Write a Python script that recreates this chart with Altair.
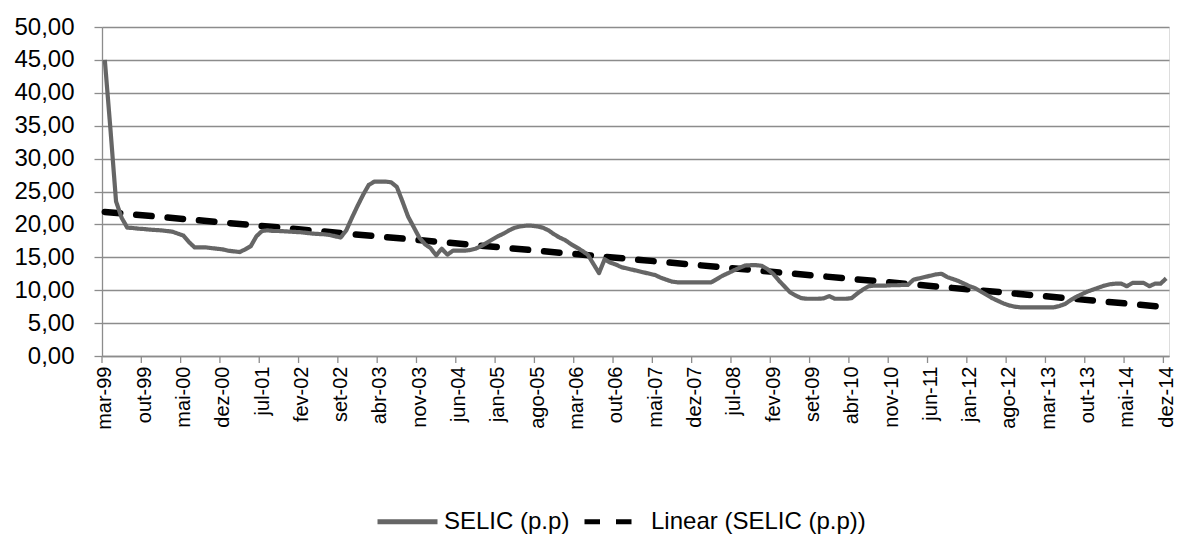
import altair as alt
import pandas as pd

# ---- data ----
meses_pt = ["jan", "fev", "mar", "abr", "mai", "jun", "jul", "ago", "set", "out", "nov", "dez"]
ano_inicio, mes_inicio, n_meses = 1999, 3, 190  # mar-99 .. dez-14

selic_1999 = [45.0, 34.5, 23.5, 21.0, 19.5, 19.45, 19.35, 19.3, 19.2, 19.15]
selic_2000 = [19.1, 19.0, 18.9, 18.6, 18.3, 17.3, 16.5, 16.5, 16.5, 16.4, 16.3, 16.2]
selic_2001 = [16.0, 15.9, 15.8, 16.2, 16.7, 18.2, 19.0, 19.1, 19.0, 19.0, 18.95, 18.9]
selic_2002 = [18.85, 18.8, 18.7, 18.6, 18.55, 18.5, 18.4, 18.2, 18.0, 19.1, 21.0, 22.8]
selic_2003 = [24.5, 26.0, 26.5, 26.5, 26.5, 26.4, 25.7, 23.5, 21.2, 19.6, 18.0, 17.0]
selic_2004 = [16.4, 15.3, 16.3, 15.4, 16.0, 16.0, 16.0, 16.1, 16.3, 16.7, 17.2, 17.7]
selic_2005 = [18.2, 18.6, 19.1, 19.5, 19.7, 19.8, 19.8, 19.7, 19.5, 19.1, 18.5, 18.0]
selic_2006 = [17.6, 17.0, 16.5, 16.0, 15.4, 14.0, 12.6, 14.7, 14.2, 13.9, 13.5, 13.3]
selic_2007 = [13.1, 12.9, 12.7, 12.5, 12.3, 11.9, 11.6, 11.3, 11.2, 11.2, 11.2, 11.2]
selic_2008 = [11.2, 11.2, 11.2, 11.7, 12.2, 12.6, 13.0, 13.4, 13.75, 13.8, 13.8, 13.7]
selic_2009 = [13.2, 12.5, 11.5, 10.6, 9.7, 9.2, 8.8, 8.7, 8.7, 8.7, 8.75, 9.1]
selic_2010 = [8.7, 8.7, 8.7, 8.8, 9.5, 10.1, 10.6, 10.7, 10.7, 10.7, 10.75, 10.75]
selic_2011 = [10.8, 10.8, 11.6, 11.8, 12.0, 12.2, 12.4, 12.5, 12.0, 11.7, 11.4, 11.0]
selic_2012 = [10.6, 10.3, 9.8, 9.3, 8.8, 8.4, 8.0, 7.7, 7.5, 7.4, 7.4, 7.4]
selic_2013 = [7.4, 7.4, 7.4, 7.4, 7.6, 7.9, 8.5, 9.0, 9.4, 9.8, 10.1, 10.4]
selic_2014 = [10.7, 10.9, 11.0, 11.0, 10.6, 11.1, 11.1, 11.1, 10.6, 11.0, 11.0, 11.8]

selic = (selic_1999 + selic_2000 + selic_2001 + selic_2002 + selic_2003 + selic_2004
         + selic_2005 + selic_2006 + selic_2007 + selic_2008 + selic_2009 + selic_2010
         + selic_2011 + selic_2012 + selic_2013 + selic_2014)

rotulos = []
for k in range(n_meses):
    m = (mes_inicio - 1 + k) % 12
    a = ano_inicio + (mes_inicio - 1 + k) // 12
    rotulos.append(f"{meses_pt[m]}-{a % 100:02d}")

passo_rotulo = 7
idx_rotulos = list(range(0, n_meses, passo_rotulo))
texto_rotulos = [rotulos[k] for k in idx_rotulos]
limites_ticks = [k - 0.5 for k in idx_rotulos]

y_ticks = list(range(0, 51, 5))

serie_1 = "SELIC (p.p)"
serie_2 = "Linear (SELIC (p.p))"

df = pd.DataFrame({"idx": list(range(n_meses)), "mes": rotulos, "selic": selic})
df_ticks = pd.DataFrame({"idx": limites_ticks})

FONT = "Liberation Sans"
GRID = "#8c8c8c"

label_expr_x = "[" + ",".join(f"'{t}'" for t in texto_rotulos) + f"][round(datum.value/{passo_rotulo})]"

x_scale = alt.Scale(domain=[-0.5, n_meses - 0.5], nice=False, zero=False)
y_scale = alt.Scale(domain=[0, 50], nice=False, zero=True)

x_axis = alt.Axis(values=idx_rotulos, labelExpr=label_expr_x, labelAngle=-90,
                  labelAlign="right", labelBaseline="middle",
                  ticks=False, grid=False, domainColor=GRID, domainWidth=1.3,
                  labelFont=FONT, labelFontSize=20, labelColor="#000000",
                  labelPadding=10, labelOverlap=False, labelFlush=False, labelBound=False)
x_enc = alt.X("idx:Q", scale=x_scale, title=None, axis=x_axis)
y_enc = alt.Y(
    "selic:Q", scale=y_scale, title=None,
    axis=alt.Axis(values=y_ticks, labelExpr="replace(format(datum.value, '.2f'), '.', ',')",
                  tickSize=8, tickColor=GRID, tickWidth=1.3, domainColor=GRID, domainWidth=1.3,
                  grid=True, gridColor=GRID, gridWidth=1.3, labelOverlap=False,
                  labelFont=FONT, labelFontSize=24, labelColor="#000000", labelPadding=20),
)

leg = alt.Legend(title=None, orient="none", legendX=273, legendY=462, direction="horizontal",
                 symbolType="stroke", symbolSize=3600, symbolStrokeWidth=5,
                 labelFont=FONT, labelFontSize=24, labelColor="#000000", labelOffset=4,
                 labelLimit=500, columnPadding=4)

cor = alt.Color("serie:N", scale=alt.Scale(domain=[serie_1, serie_2], range=["#666666", "#000000"]), legend=leg)
traco = alt.StrokeDash("serie:N", scale=alt.Scale(domain=[serie_1, serie_2], range=[[1, 0], [15.5, 16]]), legend=leg)

base = alt.Chart(df)

linha = base.transform_calculate(serie=f"'{serie_1}'").mark_line(
    strokeWidth=4.2, strokeJoin="round"
).encode(x=x_enc, y=y_enc, color=cor, strokeDash=traco)

tendencia = base.transform_regression("idx", "selic", method="linear").transform_calculate(
    serie=f"'{serie_2}'"
).mark_line(strokeWidth=6.5, strokeCap="round").encode(x=x_enc, y=y_enc, color=cor, strokeDash=traco)

ticks_x = alt.Chart(df_ticks).mark_rule(color=GRID, strokeWidth=1.3).encode(
    x=x_enc, y=alt.value(329), y2=alt.value(336)
)

chart = alt.layer(tendencia, linha, ticks_x).properties(
    width=1067, height=329,
    padding={"left": 102, "top": 27, "right": 10, "bottom": 178},
    autosize=alt.AutoSizeParams(type="none"),
).configure_view(stroke=None).configure(background="white")

chart.save("out.html", embed_options={"renderer": "svg", "actions": False})
